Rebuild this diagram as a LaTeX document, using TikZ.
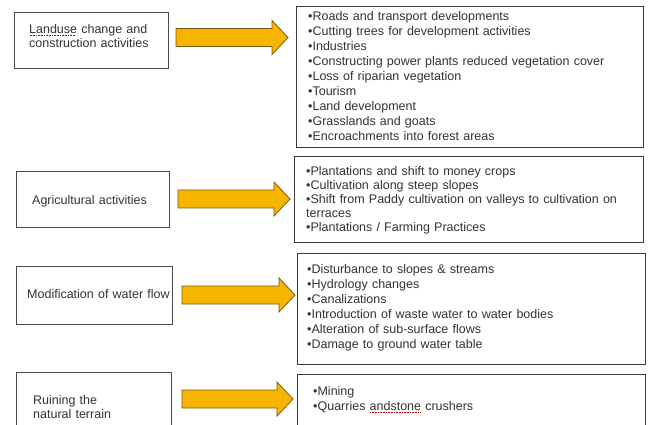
\documentclass[tikz,border=0pt]{standalone}
\usepackage{fontspec}
\setmainfont{Liberation Sans}
\definecolor{boxline}{HTML}{4A4A4A}
\definecolor{txt}{HTML}{333333}
\definecolor{arrowfill}{HTML}{F7B500}
\definecolor{arrowline}{HTML}{7A5A12}
% red dotted underline for flagged words
\newcommand\spellwave[1]{\setbox0\hbox{#1}%
  \rlap{\textcolor{red!75!black}{\raisebox{-2.6pt}[0pt][0pt]{\hbox to\wd0{\leaders\hbox to 1.6pt{\hss\vrule width 0.9pt height 0.7pt\hss}\hfill}}}}\box0\relax}
% block arrow: name, shaft start x, tip x, centre y
\newcommand\blockarrow[4]{%
  \draw[bigarrow] (#2,#4-9) -- (#3-16,#4-9) -- (#3-16,#4-17) -- (#3,#4)
    -- (#3-16,#4+17) -- (#3-16,#4+9) -- (#2,#4+9) -- cycle;
  \coordinate (#1) at (#3,#4);}
\begin{document}
\begin{tikzpicture}[x=1pt,y=-1pt,
  cause/.style={draw=boxline, line width=0.9pt, fill=white, inner sep=0pt},
  effects/.style={draw=boxline!80!black, line width=1pt, fill=white, inner sep=0pt},
  label/.style={anchor=base west, inner sep=0pt, text=txt,
    font=\fontsize{12.5}{14}\selectfont, text width=150pt, align=left},
  list/.style={anchor=base west, inner sep=0pt, text=txt,
    font=\fontsize{12.5}{15}\selectfont, text width=330pt, align=left},
  bigarrow/.style={fill=arrowfill, draw=arrowline, line width=0.8pt, line join=miter}]
\useasboundingbox (0,0) rectangle (651,425);
\clip (0,0) rectangle (651,425);
\fill[white] (0,0) rectangle (651,425);

% cause boxes
\node[cause, minimum width=154pt, minimum height=56pt] (L1) at (91,40) {};
\node[cause, minimum width=153pt, minimum height=56pt] (L2) at (92.5,199) {};
\node[cause, minimum width=156pt, minimum height=58pt] (L3) at (94,295) {};
\node[cause, minimum width=155pt, minimum height=70pt] (L4) at (93.5,407) {};

% effect boxes
\node[effects, minimum width=347pt, minimum height=141pt] (R1) at (470,77.5) {};
\node[effects, minimum width=349pt, minimum height=85pt] (R2) at (468.5,199.5) {};
\node[effects, minimum width=348pt, minimum height=111pt] (R3) at (471,308.5) {};
\node[effects, minimum width=348pt, minimum height=70pt] (R4) at (471,409) {};

% arrows
\blockarrow{A1}{176}{288}{37.5}
\blockarrow{A2}{178}{290}{199}
\blockarrow{A3}{182}{295}{295}
\blockarrow{A4}{182}{293}{399}

% cause texts
\node[label] (t1) at (29,33.5) {\spellwave{Landuse} change and\\construction activities};
\node[label] (t2) at (32,204.5) {Agricultural activities};
\node[label] (t3) at (27,298.5) {Modification of water flow};
\node[label] (t4) at (33,404.5) {Ruining the\\natural terrain};

% effect lists
\node[list] (e1) at (308,20.5) {•Roads and transport developments\\
•Cutting trees for development activities\\
•Industries\\
•Constructing power plants reduced vegetation cover\\
•Loss of riparian vegetation\\
•Tourism\\
•Land development\\
•Grasslands and goats\\
•Encroachments into forest areas};
\node[list, font=\fontsize{12.5}{14}\selectfont] (e2) at (306,175.5) {•Plantations and shift to money crops\\
•Cultivation along steep slopes\\
•Shift from Paddy cultivation on valleys to cultivation on\\
terraces\\
•Plantations / Farming Practices};
\node[list] (e3) at (307,273.5) {•Disturbance to slopes \& streams\\
•Hydrology changes\\
•Canalizations\\
•Introduction of waste water to water bodies\\
•Alteration of sub-surface flows\\
•Damage to ground water table};
\node[list] (e4) at (313,395.5) {•Mining\\
•Quarries \spellwave{andstone} crushers};
\end{tikzpicture}
\end{document}
